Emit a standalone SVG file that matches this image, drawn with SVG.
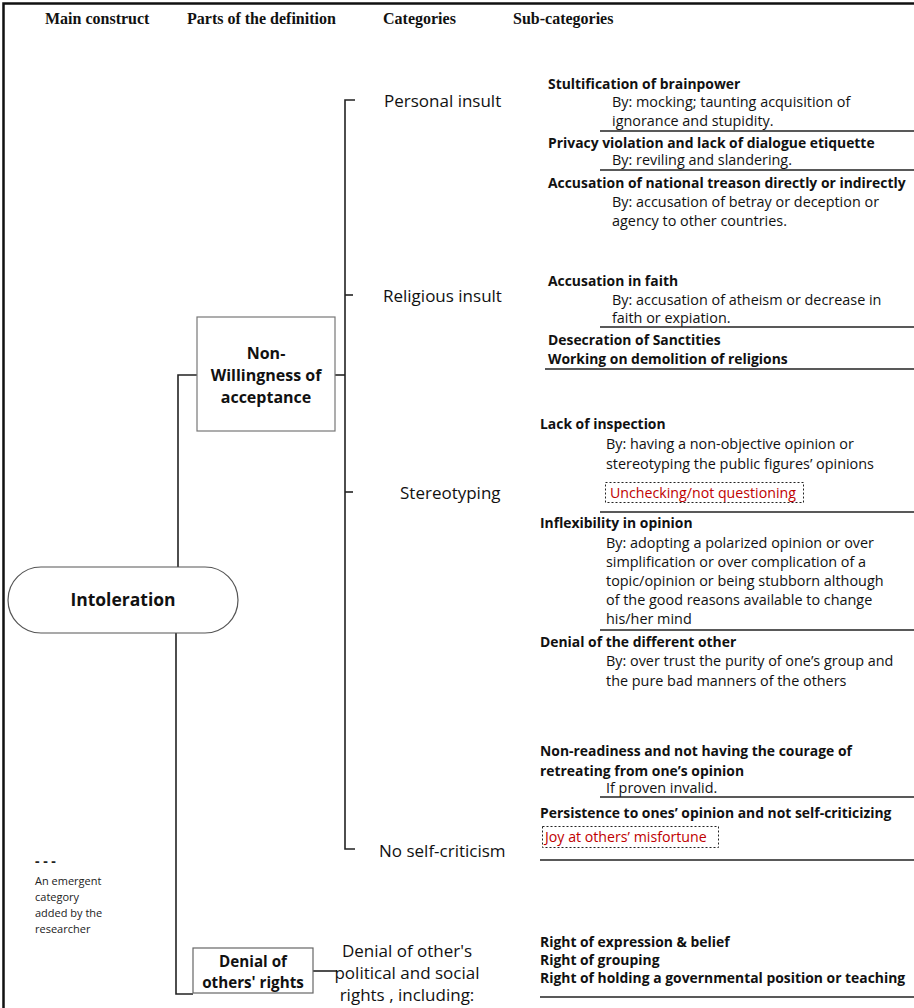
<svg xmlns="http://www.w3.org/2000/svg" width="914" height="1008" viewBox="0 0 914 1008">
<style>
.hd{font-family:"Liberation Serif",serif;font-weight:bold;font-size:16px;fill:#111}
.cat{font-family:"Open Sans",Lato,sans-serif;font-size:17px;fill:#111}
.sb{font-family:"Open Sans",Lato,sans-serif;font-weight:bold;font-size:13.9px;fill:#111}
.sr{font-family:"Open Sans",Lato,sans-serif;font-size:14.4px;fill:#111}
.red{font-family:"Open Sans",Lato,sans-serif;font-size:14.2px;fill:#c00000}
.nb{font-family:"Open Sans",Lato,sans-serif;font-weight:bold;font-size:16px;fill:#111}
.nb-big{font-size:17.5px}
.nb-sm{font-size:15.2px}
.lg{font-family:"Open Sans",Lato,sans-serif;font-size:11px;fill:#222}
.lg-dash{font-size:14px;font-weight:bold}
.ln{stroke:#222;stroke-width:1.5;fill:none}
.cn{stroke:#222;stroke-width:1.6;fill:none}
.dash{stroke:#222;stroke-width:1;stroke-dasharray:2 2;fill:none}
</style>
<rect width="914" height="1008" fill="#fff"/>
<path d="M3.5 1008 V3.5 H914" stroke="#111" stroke-width="2.5" fill="none"/>

<g id="headers">
<text class="hd" x="45" y="24">Main construct</text>
<text class="hd" x="187" y="24">Parts of the definition</text>
<text class="hd" x="383" y="24">Categories</text>
<text class="hd" x="513" y="24">Sub-categories</text>
</g>

<g id="connectors">
<path class="cn" d="M355 100 H345 V849 H355"/>
<path class="cn" d="M345 295 H353"/>
<path class="cn" d="M345 492 H353"/>
<path class="cn" d="M335 375 H345"/>
<path class="cn" d="M197 375 H178 V567"/>
<path class="cn" d="M176 633 V994 H193"/>
<path class="cn" d="M313 971 H337"/>
</g>

<g id="node-intoleration">
<rect x="8" y="567" width="230" height="66" rx="33" ry="33" fill="#fff" stroke="#555" stroke-width="1.2"/>
<text class="nb nb-big" x="123" y="606" text-anchor="middle">Intoleration</text>
</g>

<g id="node-nonwillingness">
<rect x="197" y="317" width="138" height="114" fill="#fff" stroke="#777" stroke-width="1.2"/>
<text class="nb" x="266" y="359" text-anchor="middle">Non-</text>
<text class="nb" x="266" y="381" text-anchor="middle">Willingness of</text>
<text class="nb" x="266" y="403" text-anchor="middle">acceptance</text>
</g>

<g id="node-denial">
<rect x="193" y="948" width="120" height="45" fill="#fff" stroke="#666" stroke-width="1.2"/>
<text class="nb nb-sm" x="253" y="967" text-anchor="middle">Denial of</text>
<text class="nb nb-sm" x="253" y="988" text-anchor="middle">others' rights</text>
</g>

<g id="cat-personal">
<text class="cat" x="384" y="107">Personal insult</text>
</g>
<g id="cat-religious">
<text class="cat" x="383" y="302">Religious insult</text>
</g>
<g id="cat-stereotyping">
<text class="cat" x="400" y="499">Stereotyping</text>
</g>
<g id="cat-noselfcrit">
<text class="cat" x="379" y="857">No self-criticism</text>
</g>
<g id="cat-denial">
<text class="cat" x="407" y="957" text-anchor="middle">Denial of other's</text>
<text class="cat" x="407" y="979" text-anchor="middle">political and social</text>
<text class="cat" x="407" y="1001" text-anchor="middle">rights , including:</text>
</g>

<g id="sub-personal">
<text class="sb" x="548" y="89">Stultification of brainpower</text>
<text class="sr" x="612" y="107">By: mocking; taunting acquisition of</text>
<text class="sr" x="612" y="126">ignorance and stupidity.</text>
<path class="ln" d="M600 131 H914"/>
<text class="sb" x="548" y="148">Privacy violation and lack of dialogue etiquette</text>
<text class="sr" x="612" y="165">By: reviling and slandering.</text>
<path class="ln" d="M600 170 H914"/>
<text class="sb" x="548" y="188">Accusation of national treason directly or indirectly</text>
<text class="sr" x="612" y="207">By: accusation of betray or deception or</text>
<text class="sr" x="612" y="226">agency to other countries.</text>
</g>

<g id="sub-religious">
<text class="sb" x="548" y="286">Accusation in faith</text>
<text class="sr" x="612" y="305">By: accusation of atheism or decrease in</text>
<text class="sr" x="612" y="323">faith or expiation.</text>
<path class="ln" d="M600 327 H914"/>
<text class="sb" x="548" y="345">Desecration of Sanctities</text>
<text class="sb" x="548" y="364">Working on demolition of religions</text>
<path class="ln" d="M545 369 H914"/>
</g>

<g id="sub-stereotyping">
<text class="sb" x="540" y="429">Lack of inspection</text>
<text class="sr" x="606" y="449">By: having a non-objective opinion or</text>
<text class="sr" x="606" y="469">stereotyping the public figures’ opinions</text>
<rect class="dash" x="605.5" y="482.5" width="198" height="20"/>
<text class="red" x="610" y="498">Unchecking/not questioning</text>
<path class="ln" d="M600 512 H914"/>
<text class="sb" x="540" y="528">Inflexibility in opinion</text>
<text class="sr" x="606" y="548">By: adopting a polarized opinion or over</text>
<text class="sr" x="606" y="567">simplification or over complication of a</text>
<text class="sr" x="606" y="586">topic/opinion or being stubborn although</text>
<text class="sr" x="606" y="605">of the good reasons available to change</text>
<text class="sr" x="606" y="624">his/her mind</text>
<path class="ln" d="M600 630 H914"/>
<text class="sb" x="540" y="647">Denial of the different other</text>
<text class="sr" x="606" y="666">By: over trust the purity of one’s group and</text>
<text class="sr" x="606" y="686">the pure bad manners of the others</text>
</g>

<g id="sub-noselfcrit">
<text class="sb" x="540" y="756">Non-readiness and not having the courage of</text>
<text class="sb" x="540" y="776">retreating from one’s opinion</text>
<text class="sr" x="606" y="793">If proven invalid.</text>
<path class="ln" d="M600 797 H914"/>
<text class="sb" x="540" y="818">Persistence to ones’ opinion and not self-criticizing</text>
<rect class="dash" x="542.5" y="826.5" width="176" height="21"/>
<text class="red" x="545" y="842">Joy at others’ misfortune</text>
<path class="ln" d="M540 860 H914"/>
</g>

<g id="sub-denial">
<text class="sb" x="540" y="947">Right of expression &amp; belief</text>
<text class="sb" x="540" y="965">Right of grouping</text>
<text class="sb" x="540" y="983">Right of holding a governmental position or teaching</text>
<path class="ln" d="M540 997 H914"/>
</g>

<g id="legend">
<text class="lg lg-dash" x="35" y="866">- - -</text>
<text class="lg" x="35" y="885">An emergent</text>
<text class="lg" x="35" y="901">category</text>
<text class="lg" x="35" y="917">added by the</text>
<text class="lg" x="35" y="933">researcher</text>
</g>
</svg>
